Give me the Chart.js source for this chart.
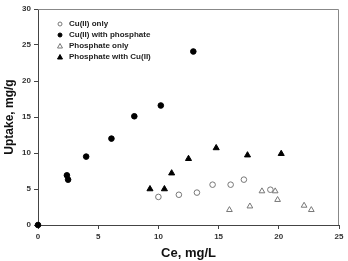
<!DOCTYPE html>
<html>
<head>
<meta charset="utf-8">
<script src="https://cdn.jsdelivr.net/npm/chart.js@4/dist/chart.umd.min.js"></script>
<style>
  html, body { margin: 0; padding: 0; background: #fff; }
  #wrap { width: 348px; height: 261px; }
</style>
</head>
<body>
<div id="wrap"><canvas id="chart" width="348" height="261"></canvas></div>
<script>
// values
const seriesNames = ["Cu(II) only", "Cu(II) with phosphate", "Phosphate only", "Phosphate with Cu(II)"];

const cuOnlyX = [10.0, 11.7, 13.2, 14.5, 16.0, 17.1, 19.3];
const cuOnlyY = [3.9, 4.2, 4.5, 5.6, 5.6, 6.3, 4.9];

const cuPhosX = [0, 2.4, 2.5, 4.0, 6.1, 8.0, 10.2, 12.9];
const cuPhosY = [0, 6.9, 6.3, 9.5, 12.0, 15.1, 16.6, 24.1];

const phosOnlyX = [15.9, 17.6, 18.6, 19.7, 19.9, 22.1, 22.7];
const phosOnlyY = [2.1, 2.6, 4.7, 4.7, 3.5, 2.7, 2.1];

const phosCuX = [9.3, 10.5, 11.1, 12.5, 14.8, 17.4, 20.2];
const phosCuY = [5.0, 5.0, 7.2, 9.2, 10.7, 9.7, 9.9];

const xTicks = [0, 5, 10, 15, 20, 25];
const yTicks = [0, 5, 10, 15, 20, 25, 30];

function pts(xs, ys) {
  return xs.map((x, i) => ({ x: x, y: ys[i] }));
}

const FONT = "'Liberation Sans', Arial, sans-serif";

// box frame + legend inside the plot
const frameAndLegend = {
  id: "frameAndLegend",
  afterDraw(chart) {
    const { ctx, chartArea: a } = chart;
    ctx.save();
    ctx.strokeStyle = "#888";
    ctx.lineWidth = 1;
    ctx.beginPath();
    ctx.moveTo(a.left, a.top + 0.5);
    ctx.lineTo(a.right - 0.5, a.top + 0.5);
    ctx.lineTo(a.right - 0.5, a.bottom);
    ctx.stroke();

    const lx = 60, tx = 69;
    const rows = [24, 35, 46, 57];
    ctx.font = "bold 8px " + FONT;
    ctx.textBaseline = "middle";
    ctx.textAlign = "left";
    chart.data.datasets.forEach((ds, i) => {
      const y = rows[i];
      ctx.fillStyle = ds.backgroundColor;
      ctx.strokeStyle = ds.borderColor;
      ctx.lineWidth = 1;
      ctx.beginPath();
      if (ds.pointStyle === "triangle") {
        const r = 2.5;
        ctx.moveTo(lx, y - r);
        ctx.lineTo(lx + r, y + r * 0.8);
        ctx.lineTo(lx - r, y + r * 0.8);
        ctx.closePath();
      } else {
        ctx.arc(lx, y, 2, 0, Math.PI * 2);
      }
      ctx.fill();
      ctx.stroke();
      ctx.fillStyle = "#222";
      ctx.fillText(ds.label, tx, y);
    });
    ctx.restore();
  }
};

const ctx = document.getElementById("chart").getContext("2d");
const chart = new Chart(ctx, {
  type: "scatter",
  data: {
    datasets: [
      {
        label: seriesNames[0],
        data: pts(cuOnlyX, cuOnlyY),
        pointStyle: "circle",
        pointRadius: 2.8,
        backgroundColor: "#fff",
        borderColor: "#777",
        borderWidth: 1,
      },
      {
        label: seriesNames[1],
        data: pts(cuPhosX, cuPhosY),
        pointStyle: "circle",
        pointRadius: 2.8,
        backgroundColor: "#000",
        borderColor: "#000",
        borderWidth: 1,
      },
      {
        label: seriesNames[2],
        data: pts(phosOnlyX, phosOnlyY),
        pointStyle: "triangle",
        pointRadius: 3.3,
        backgroundColor: "#fff",
        borderColor: "#777",
        borderWidth: 1,
      },
      {
        label: seriesNames[3],
        data: pts(phosCuX, phosCuY),
        pointStyle: "triangle",
        pointRadius: 3.5,
        backgroundColor: "#000",
        borderColor: "#000",
        borderWidth: 1,
      },
    ],
  },
  options: {
    responsive: false,
    animation: false,
    clip: false,
    layout: { padding: { top: 9, right: 9, left: 0, bottom: 0 } },
    plugins: {
      legend: { display: false },
      tooltip: { enabled: false },
    },
    scales: {
      x: {
        type: "linear",
        min: 0,
        max: 25,
        afterBuildTicks: (s) => { s.ticks = xTicks.map((v) => ({ value: v })); },
        afterFit: (s) => { s.height = 36; },
        grid: { drawOnChartArea: false, drawTicks: true, tickLength: 4, color: "#444" },
        border: { display: true, color: "#444", width: 1 },
        ticks: { color: "#333", padding: 3, font: { family: FONT, size: 8, weight: "bold" } },
        title: {
          display: true,
          text: "Ce, mg/L",
          color: "#111",
          padding: { top: 5, bottom: 0 },
          font: { family: FONT, size: 13, weight: "bold" },
        },
      },
      y: {
        type: "linear",
        min: 0,
        max: 30,
        afterBuildTicks: (s) => { s.ticks = yTicks.map((v) => ({ value: v })); },
        afterFit: (s) => { s.width = 38; },
        grid: { drawOnChartArea: false, drawTicks: true, tickLength: 4, color: "#444" },
        border: { display: true, color: "#444", width: 1 },
        ticks: { color: "#333", padding: 3, font: { family: FONT, size: 8, weight: "bold" } },
        title: {
          display: true,
          text: "Uptake, mg/g",
          color: "#111",
          padding: { top: 2, bottom: 0 },
          font: { family: FONT, size: 12, weight: "bold" },
        },
      },
    },
  },
  plugins: [frameAndLegend],
});
</script>
</body>
</html>
